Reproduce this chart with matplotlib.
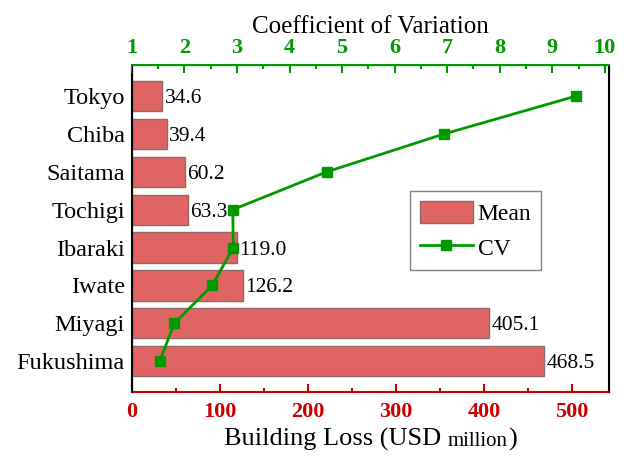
import matplotlib.pyplot as plt
from matplotlib.offsetbox import TextArea, HPacker, AnchoredOffsetbox

plt.rcParams['font.family'] = 'Liberation Serif'

prefectures = ['Tokyo', 'Chiba', 'Saitama', 'Tochigi', 'Ibaraki', 'Iwate', 'Miyagi', 'Fukushima']
mean_loss = [34.6, 39.4, 60.2, 63.3, 119.0, 126.2, 405.1, 468.5]
cv = [9.45, 6.94, 4.71, 2.92, 2.93, 2.53, 1.81, 1.53]

red = '#CC0000'
green = '#009900'

fig = plt.figure(figsize=(6.34, 4.57), dpi=100)
ax = fig.add_axes([0.208, 0.142, 0.7526, 0.7156])

ypos = list(range(len(prefectures)))
bars = ax.barh(ypos, mean_loss, height=0.8, color='#E06464', edgecolor='#8C6A6A',
               linewidth=1, label='Mean', zorder=2)
for b, v in zip(bars, mean_loss):
    ax.text(b.get_width() + 3, b.get_y() + b.get_height() / 2, f'{v:.1f}',
            va='center_baseline', ha='left', fontsize=15.5, zorder=4)

ax.set_xlim(0, 542)
ax.set_ylim(7.82, -0.82)
ax.set_yticks(ypos)
ax.set_yticklabels(prefectures, fontsize=17.5)
ax.tick_params(axis='y', length=0, pad=5)
ax.set_xticks([0, 100, 200, 300, 400, 500])
ax.set_xticks([50, 150, 250, 350, 450], minor=True)
ax.tick_params(axis='x', which='both', direction='in', colors=red, labelcolor=red,
               width=1.5, labelsize=16, pad=7)
ax.tick_params(axis='x', which='major', length=6)
ax.tick_params(axis='x', which='minor', length=3)
for lab in ax.get_xticklabels():
    lab.set_fontweight('bold')
ax.spines['bottom'].set_color(red)
ax.spines['bottom'].set_linewidth(1.5)
ax.spines['left'].set_linewidth(1.5)
ax.spines['right'].set_linewidth(1.5)

# x label with smaller "million"
parts = [TextArea('Building Loss (USD ', textprops=dict(fontsize=19)),
         TextArea('million', textprops=dict(fontsize=15)),
         TextArea(')', textprops=dict(fontsize=19))]
box = HPacker(children=parts, align='baseline', pad=0, sep=0)
anchored = AnchoredOffsetbox(loc='upper center', child=box, frameon=False,
                             bbox_to_anchor=(0.5, -0.11), bbox_transform=ax.transAxes,
                             borderpad=0, pad=0)
ax.add_artist(anchored)

# CV on the top axis
ax2 = ax.twiny()
line, = ax2.plot(cv, ypos, color=green, linewidth=2, marker='s', markersize=7,
                 label='CV', zorder=3)
ax2.set_xlim(1, 10.08)
ax2.set_xticks(range(1, 11))
ax2.set_xticks([x + 0.5 for x in range(1, 10)], minor=True)
ax2.tick_params(axis='x', which='both', direction='in', colors=green, labelcolor=green,
                width=1.5, labelsize=16, pad=5)
ax2.tick_params(axis='x', which='major', length=6)
ax2.tick_params(axis='x', which='minor', length=3)
for lab in ax2.get_xticklabels():
    lab.set_fontweight('bold')
ax2.spines['top'].set_color(green)
ax2.spines['top'].set_linewidth(1.5)
ax2.spines['bottom'].set_visible(False)
ax2.set_xlabel('Coefficient of Variation', fontsize=18, labelpad=4)

leg = ax2.legend([bars, line], ['Mean', 'CV'], loc='upper right',
                 bbox_to_anchor=(0.857, 0.614), fontsize=17, fancybox=False,
                 edgecolor='#808080', framealpha=1, handlelength=2.25,
                 handleheight=1.1, borderpad=0.4, labelspacing=0.45,
                 handletextpad=0.2, borderaxespad=0)
leg.get_frame().set_linewidth(1)

fig.savefig('out.png', dpi=100)
